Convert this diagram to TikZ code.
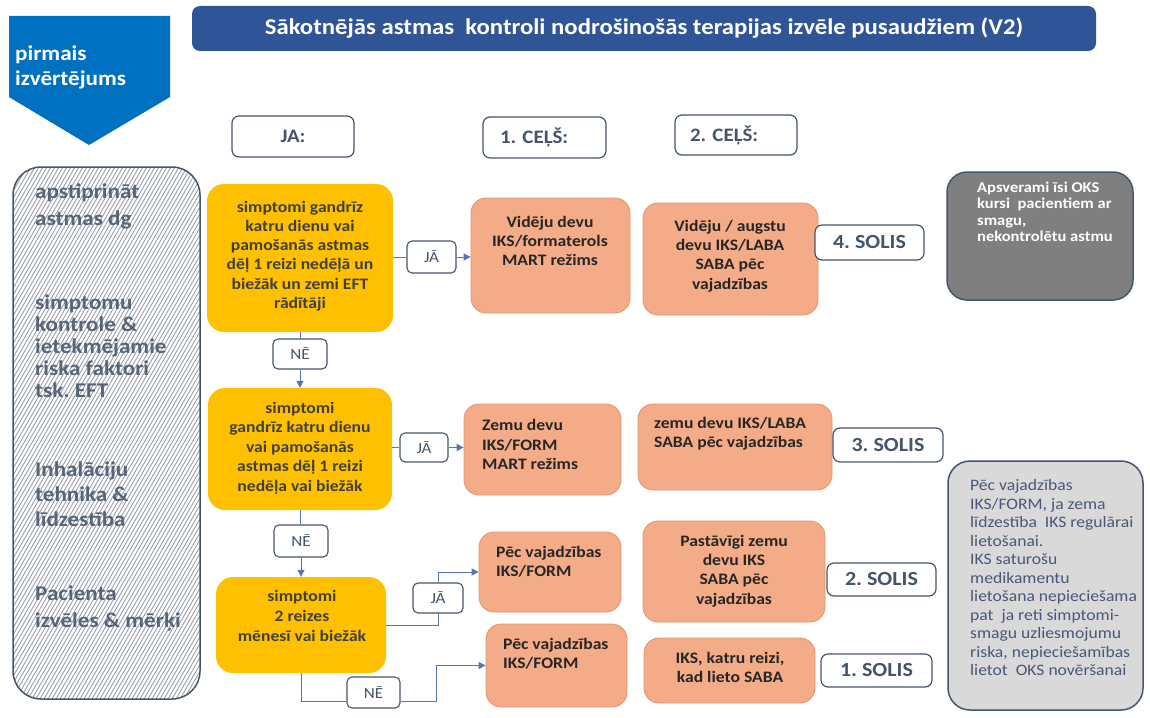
\documentclass[tikz,border=0pt]{standalone}
\usepackage{fontspec}
\setmainfont{Carlito}[FakeStretch=1.1]
\usetikzlibrary{arrows.meta}
\definecolor{ttl}{RGB}{47,85,151}
\definecolor{pirm}{RGB}{0,112,192}
\definecolor{slate}{RGB}{68,84,106}
\definecolor{ylw}{RGB}{255,192,0}
\definecolor{ytext}{RGB}{64,64,64}
\definecolor{orng}{RGB}{244,172,136}
\definecolor{orngd}{RGB}{226,148,112}
\definecolor{otext}{RGB}{38,38,38}
\definecolor{dgray}{RGB}{127,127,127}
\definecolor{lgray}{RGB}{217,217,217}
\definecolor{lgtext}{RGB}{72,88,118}
\definecolor{lnk}{RGB}{84,116,180}
\definecolor{hatchc}{RGB}{152,160,172}
\frenchspacing

\begin{document}
\begin{tikzpicture}[x=1pt,y=-1pt,
	every node/.style={inner sep=0pt},
	hdr/.style={draw=slate, line width=1.2pt, fill=white, rounded corners=7pt, text=slate, font=\fontsize{19}{22}\selectfont\bfseries},
	solis/.style={hdr, font=\fontsize{20}{22}\selectfont\bfseries},
	tag/.style={draw=slate, line width=1.1pt, fill=white, rounded corners=5pt, text=slate, font=\fontsize{15.5}{18}\selectfont},
	ybox/.style={fill=ylw, rounded corners=17pt},
	ytxt/.style={text=ytext, align=center, font=\fontsize{16}{19.2}\selectfont\bfseries},
	obox/.style={fill=orng, draw=orngd, line width=0.8pt, rounded corners=15pt},
	otxt/.style={text=otext, font=\fontsize{16}{19.2}\selectfont\bfseries},
	side/.style={text=slate!90, align=left, anchor=west, font=\fontsize{21}{#1}\selectfont\bfseries},
	hatch/.style={draw=hatchc, line width=0.9pt},
	conn/.style={draw=lnk, line width=1pt},
	arr/.style={conn, -{Triangle[length=7pt,width=7pt]}}]
\useasboundingbox (0,0) rectangle (1150,717);

\node[fill=ttl, rounded corners=8pt, minimum width=904pt, minimum height=45pt, text=white, font=\fontsize{22.5}{26}\selectfont\bfseries] (title) at (644,28.5) {Sākotnējās astmas\ \ kontroli nodrošinošās terapijas izvēle pusaudžiem (V2)};

\fill[pirm] (9,16) -- (170,16) -- (170,97) -- (89,145) -- (9,97) -- cycle;
\node[text=white, align=left, anchor=west, font=\fontsize{21}{25}\selectfont\bfseries] (pirmt) at (15,67.5) {pirmais\\izvērtējums};

\begin{scope}
\clip[rounded corners=28pt] (13,167) rectangle (200,699);
\foreach \hx in {-320,-316,...,200}
	\draw[hatch] (\hx,699) -- ++(307,-532);
\end{scope}
\node[draw=slate, line width=1.5pt, rounded corners=28pt, minimum width=187pt, minimum height=532pt] (crit) at (106.5,433) {};
\node[side=27] (crit1) at (35,206.5) {apstiprināt\\astmas dg};
\node[side=22] (crit2) at (35,346) {simptomu\\kontrole \&\\ietekmējamie\\riska faktori\\tsk. EFT};
\node[side=25] (crit3) at (35,494) {Inhalāciju\\tehnika \&\\līdzestība};
\node[side=27] (crit4) at (35,608.5) {Pacienta\\izvēles \& mērķi};

\node[hdr, minimum width=122pt, minimum height=41pt] (ja) at (293,136.5) {JA:};
\node[hdr, minimum width=123pt, minimum height=41pt, text width=89pt, align=left] (cels1) at (544.5,137.5) {1. CEĻŠ:};
\node[hdr, minimum width=122pt, minimum height=40pt, text width=92pt, align=left] (cels2) at (736,135) {2. CEĻŠ:};

\node[ybox, minimum width=186pt, minimum height=148pt] (y1) at (300,258) {};
\node[ytxt] (y1t) at (300,256) {simptomi gandrīz\\katru dienu vai\\pamošanās astmas\\dēļ 1 reizi nedēļā un\\biežāk un zemi EFT\\rādītāji};
\node[ybox, minimum width=184pt, minimum height=122pt] (y2) at (300,449) {};
\node[ytxt, font=\fontsize{16}{19.5}\selectfont\bfseries] (y2t) at (300,448) {simptomi\\gandrīz katru dienu\\vai pamošanās\\astmas dēļ 1 reizi\\nedēļa vai biežāk};
\node[ybox, minimum width=170pt, minimum height=96pt] (y3) at (301,625) {};
\node[ytxt, font=\fontsize{16}{20}\selectfont\bfseries] (y3t) at (302,616) {simptomi\\2 reizes\\mēnesī vai biežāk};

\node[obox, minimum width=159pt, minimum height=115pt] (o1) at (550.5,255.5) {};
\node[otxt, align=center] (o1t) at (550,241) {Vidēju devu\\IKS/formaterols\\MART režims};
\node[obox, minimum width=175pt, minimum height=112pt] (o2) at (730.5,259) {};
\node[otxt, align=center] (o2t) at (730,256) {Vidēju / augstu\\devu IKS/LABA\\SABA pēc\\vajadzības};
\node[obox, minimum width=157pt, minimum height=91pt] (o3) at (542.5,449.5) {};
\node[otxt, align=left, anchor=west] (o3t) at (482,444.5) {Zemu devu\\IKS/FORM\\MART režims};
\node[obox, minimum width=194pt, minimum height=86pt] (o4) at (735,447) {};
\node[otxt, align=left, anchor=west] (o4t) at (654,434) {zemu devu IKS/LABA\\SABA pēc vajadzības};
\node[obox, minimum width=142pt, minimum height=80pt] (o5) at (550,572) {};
\node[otxt, align=left, anchor=west] (o5t) at (496,561.5) {Pēc vajadzības\\IKS/FORM};
\node[obox, minimum width=182pt, minimum height=101pt] (o6) at (734,571.5) {};
\node[otxt, align=center] (o6t) at (734,571) {Pastāvīgi zemu\\devu IKS\\SABA pēc\\vajadzības};
\node[obox, minimum width=141pt, minimum height=83pt] (o7) at (556.5,665.5) {};
\node[otxt, align=left, anchor=west] (o7t) at (503,653.5) {Pēc vajadzības\\IKS/FORM};
\node[obox, minimum width=171pt, minimum height=65pt] (o8) at (729.5,670.5) {};
\node[otxt, align=center] (o8t) at (730,667.5) {IKS, katru reizi,\\kad lieto SABA};

\node[solis, minimum width=109pt, minimum height=35pt] (s4) at (869.5,242.5) {4. SOLIS};
\node[solis, minimum width=110pt, minimum height=34pt] (s3) at (888,445) {3. SOLIS};
\node[solis, minimum width=109pt, minimum height=33pt] (s2) at (881.5,579.5) {2. SOLIS};
\node[solis, minimum width=111pt, minimum height=33pt] (s1) at (876.5,670.5) {1. SOLIS};

\node[fill=dgray, draw=slate, line width=1.5pt, rounded corners=20pt, minimum width=186pt, minimum height=128pt] (oks) at (1040,236) {};
\node[text=white, align=left, anchor=west, font=\fontsize{15}{16.5}\selectfont\bfseries] (okst) at (977,212) {Apsverami īsi OKS\\kursi\ \ pacientiem ar\\smagu,\\nekontrolētu astmu};
\node[fill=lgray, draw=slate, line width=1.5pt, rounded corners=22pt, minimum width=195pt, minimum height=249pt] (note) at (1045.5,585.5) {};
\node[text=lgtext, align=left, anchor=west, font=\fontsize{16}{18.5}\selectfont] (notet) at (970,577.5) {Pēc vajadzības\\IKS/FORM, ja zema\\līdzestība\ \ IKS regulārai\\lietošanai.\\IKS saturošu\\medikamentu\\lietošana nepieciešama\\pat\ \ ja reti simptomi-\\smagu uzliesmojumu\\riska, nepieciešamības\\lietot\ \ OKS novēršanai};

\node[tag, minimum width=49pt, minimum height=32pt] (ja1) at (431.5,257) {JĀ};
\node[tag, minimum width=54pt, minimum height=30pt] (ne1) at (300,354) {NĒ};
\node[tag, minimum width=48pt, minimum height=29pt] (ja2) at (424,447.5) {JĀ};
\node[tag, minimum width=54pt, minimum height=32pt] (ne2) at (301,541) {NĒ};
\node[tag, minimum width=50pt, minimum height=30pt] (ja3) at (438,598) {JĀ};
\node[tag, minimum width=53pt, minimum height=31pt] (ne3) at (373.5,692.5) {NĒ};

\draw[conn] (y1.east |- ja1) -- (ja1.west);
\draw[arr] (ja1.east) -- (ja1.east -| o1.west);
\draw[conn] (y1.south) -- (ne1.north);
\draw[arr] (ne1.south) -- (y2.north);
\draw[conn] (y2.east |- ja2) -- (ja2.west);
\draw[arr] (ja2.east) -- (ja2.east -| o3.west);
\draw[conn] (y2.south) -- (y2.south |- ne2.north);
\draw[arr] (ne2.south) -- (ne2.south |- y3.north);
\draw[conn] (y3.east) -| (ja3.south);
\draw[arr] (ja3.north) |- (o5.west);
\draw[conn] (y3.south) |- ([yshift=-9pt]ne3.west);
\draw[arr] ([yshift=-9pt]ne3.east) -| ([xshift=-49pt]o7.west) -- (o7.west);
\end{tikzpicture}
\end{document}
